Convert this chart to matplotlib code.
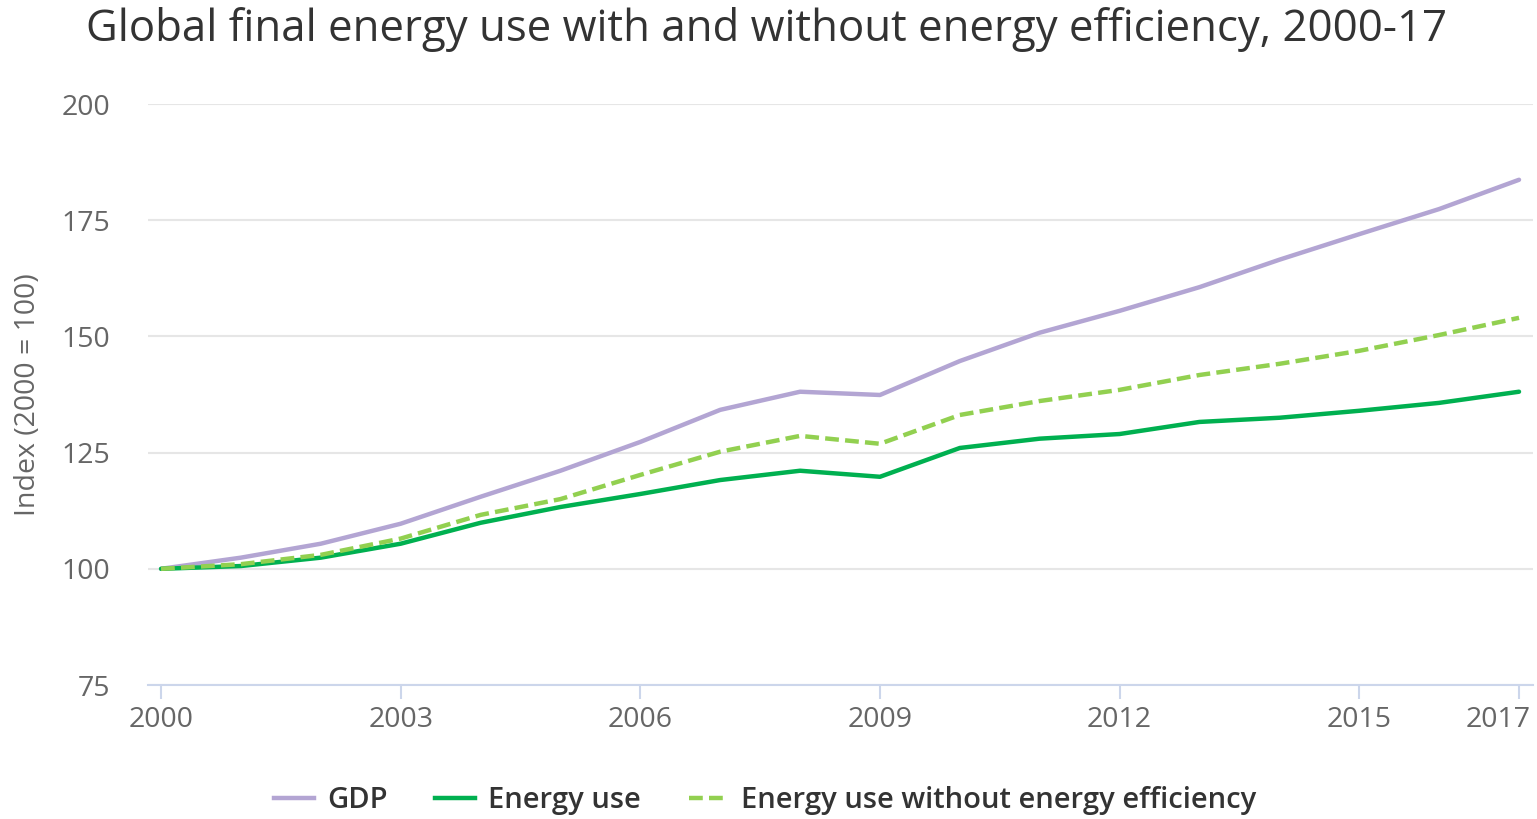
import matplotlib
matplotlib.use("Agg")
import matplotlib.pyplot as plt
from matplotlib.lines import Line2D
import matplotlib.transforms as mtransforms

plt.rcParams['font.family'] = ['Open Sans', 'DejaVu Sans']

years = list(range(2000, 2018))
gdp = [100, 102.4, 105.4, 109.7, 115.5, 121.1, 127.3, 134.2, 138.1, 137.4,
       144.7, 150.8, 155.5, 160.6, 166.5, 172.0, 177.4, 183.7]
energy_use = [100, 100.6, 102.4, 105.4, 109.9, 113.3, 116.1, 119.1, 121.1, 119.8,
              126.0, 128.0, 129.0, 131.6, 132.5, 134.0, 135.7, 138.1]
energy_no_eff = [100, 101.0, 103.0, 106.5, 111.6, 115.0, 120.2, 125.2, 128.6, 126.9,
                 133.1, 136.1, 138.5, 141.7, 144.1, 146.9, 150.3, 154.0]
xticks = [2000, 2003, 2006, 2009, 2012, 2015, 2017]
yticks = [75, 100, 125, 150, 175, 200]

c_gdp = '#B3A5D3'
c_eu = '#00B050'
c_ne = '#92D050'
dash = (3.1, 1.4)

fig = plt.figure(figsize=(15.37, 8.19), dpi=100)
ax = fig.add_axes([0.0963, 0.1636, 0.9011, 0.7094])

ax.plot(years, gdp, color=c_gdp, lw=3.2, solid_capstyle='round', zorder=3)
ax.plot(years, energy_use, color=c_eu, lw=3.2, solid_capstyle='round', zorder=4)
ax.plot(years, energy_no_eff, color=c_ne, lw=3.2, dashes=dash, zorder=5)

ax.set_xlim(1999.837, 2017.175)
ax.set_ylim(75, 200)
ax.set_yticks(yticks)
ax.set_xticks(xticks)
ax.grid(axis='y', color='#E6E6E6', lw=1.5)
ax.set_axisbelow(True)
for s in ['left', 'right', 'top']:
    ax.spines[s].set_visible(False)
ax.spines['bottom'].set_color('#CCD6EB')
ax.spines['bottom'].set_linewidth(1.5)
ax.tick_params(axis='x', colors='#CCD6EB', length=10, width=1.5, labelcolor='#666666',
               labelsize=20.5, pad=5)
ax.tick_params(axis='y', length=0, labelcolor='#666666', labelsize=20.5, pad=27)
ax.set_ylabel('Index (2000 = 100)', color='#666666', fontsize=20.5, labelpad=14)

# shift last x tick label left so it stays inside the figure
last = ax.get_xticklabels()[-1]
last.set_transform(last.get_transform() + mtransforms.ScaledTranslation(-21 / 100, 0, fig.dpi_scale_trans))

fig.text(0.499, 0.964, 'Global final energy use with and without energy efficiency, 2000-17',
         ha='center', va='center', fontsize=31.5, color='#333333')

handles = [Line2D([], [], color=c_gdp, lw=3.2),
           Line2D([], [], color=c_eu, lw=3.2),
           Line2D([], [], color=c_ne, lw=3.2, dashes=dash)]
fig.legend(handles, ['GDP', 'Energy use', 'Energy use without energy efficiency'],
           loc='center', bbox_to_anchor=(0.498, 0.022), ncol=3, frameon=False,
           handlelength=1.35, columnspacing=1.65, handletextpad=0.45,
           labelcolor='#333333', prop={'size': 21, 'weight': 'semibold'})

fig.savefig('out.png', dpi=100)
